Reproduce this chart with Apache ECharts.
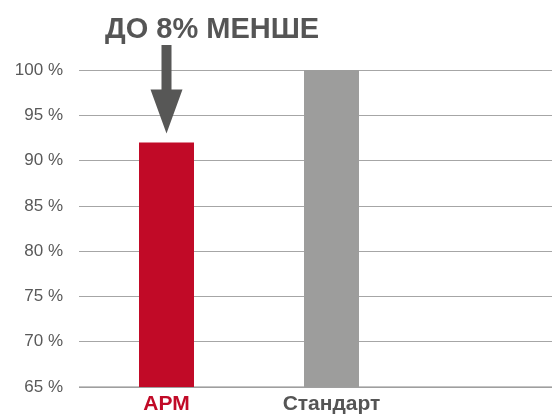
<!DOCTYPE html>
<html><head><meta charset="utf-8">
<script src="https://cdn.jsdelivr.net/npm/echarts@6/dist/echarts.min.js"></script>
<style>html,body{margin:0;padding:0;background:#fff}#c{width:552px;height:417px}</style>
</head><body><div id="c"></div>
<script>
var categories = ['АРМ', 'Стандарт', ''];
var values = [92, 100, null];
var barColors = ['#c10a27', '#9d9d9c'];
var labelColors = ['#c10a27', '#555555', '#555555'];
var yMin = 65, yMax = 100, yStep = 5;
var titleText = 'ДО 8% МЕНШЕ';

var chart = echarts.init(document.getElementById('c'), null, {renderer: 'canvas'});
var font = 'Liberation Sans, Arial, sans-serif';
var option = {
  animation: false,
  title: {text: titleText, left: 100, top: 10,
    textStyle: {fontFamily: font, fontSize: 29, fontWeight: 'bold', color: '#555555'}},
  grid: [
    {left: 79, right: 0, top: 70, bottom: 30, outerBoundsMode: 'none'},
    {left: 84, width: 495, top: 70, bottom: 30, outerBoundsMode: 'none'}
  ],
  xAxis: [
    {type: 'value', gridIndex: 0, show: false, min: 0, max: 1},
    {type: 'category', gridIndex: 1, data: categories,
      axisLine: {show: false}, axisTick: {show: false},
      axisLabel: {margin: 7, fontFamily: font, fontSize: 21, fontWeight: 'bold',
        color: function (v, i) { return labelColors[i]; }}}
  ],
  yAxis: [
    {type: 'value', gridIndex: 0, min: yMin, max: yMax, interval: yStep,
      axisLine: {show: false}, axisTick: {show: false},
      splitLine: {lineStyle: {color: '#a6a6a6', width: 1}},
      axisLabel: {margin: 16, fontFamily: font, fontSize: 17, color: '#595959',
        formatter: function (v) { return v + ' %'; }}},
    {type: 'value', gridIndex: 1, min: yMin, max: yMax, interval: yStep, show: false,
      splitLine: {show: false}}
  ],
  series: [
    {type: 'line', xAxisIndex: 0, yAxisIndex: 0, data: [[0, yMin], [1, yMin]],
      symbol: 'none', lineStyle: {color: '#8a8a8a', width: 1.2}, silent: true, z: 1},
    {type: 'bar', xAxisIndex: 1, yAxisIndex: 1, barWidth: 55, z: 3,
      data: values.map(function (v, i) { return {value: v, itemStyle: {color: barColors[i]}}; })}
  ]
};
chart.setOption(option);

var barTop = chart.convertToPixel({xAxisIndex: 1, yAxisIndex: 1}, [0, values[0]]);
var cx = barTop[0], tipY = barTop[1] - 9;
var headH = 44, headW = 32, shaftW = 10, shaftTop = 45;
chart.setOption({graphic: [
  {type: 'polygon', z: 10, shape: {points: [
    [cx - shaftW / 2, shaftTop], [cx + shaftW / 2, shaftTop],
    [cx + shaftW / 2, tipY - headH], [cx + headW / 2, tipY - headH],
    [cx, tipY], [cx - headW / 2, tipY - headH],
    [cx - shaftW / 2, tipY - headH]]},
    style: {fill: '#575756'}}
]});
</script></body></html>
